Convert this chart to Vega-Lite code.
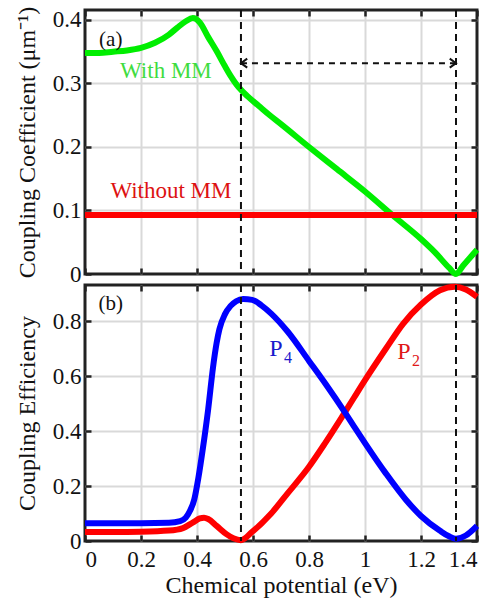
{
  "$schema": "https://vega.github.io/schema/vega-lite/v6.json",
  "padding": {"left": 13, "top": 4, "right": 8, "bottom": 2},
  "spacing": 11,
  "bounds": "flush",
  "config": {
    "font": "Liberation Serif",
    "view": {"stroke": "#222", "strokeWidth": 3},
    "axis": {
      "labelFont": "Liberation Serif",
      "titleFont": "Liberation Serif",
      "labelFontSize": 23,
      "titleFontSize": 24,
      "titleFontWeight": "normal",
      "labelColor": "#111",
      "titleColor": "#111",
      "tickColor": "#222",
      "tickSize": -6,
      "tickWidth": 2.5,
      "domain": false,
      "gridColor": "#d9d9d9",
      "gridWidth": 2,
      "labelPadding": 10,
      "minExtent": 0
    }
  },
  "datasets": {
    "green": [
      {"x": 0, "y": 0.348}, {"x": 0.05, "y": 0.348}, {"x": 0.1, "y": 0.35}, {"x": 0.15, "y": 0.352},
      {"x": 0.2, "y": 0.356}, {"x": 0.25, "y": 0.364}, {"x": 0.3, "y": 0.377}, {"x": 0.33, "y": 0.388},
      {"x": 0.36, "y": 0.398}, {"x": 0.385, "y": 0.403}, {"x": 0.41, "y": 0.396}, {"x": 0.44, "y": 0.373},
      {"x": 0.47, "y": 0.351}, {"x": 0.5, "y": 0.327}, {"x": 0.52, "y": 0.312}, {"x": 0.54, "y": 0.299},
      {"x": 0.557, "y": 0.29}, {"x": 0.58, "y": 0.28}, {"x": 0.62, "y": 0.265}, {"x": 0.66, "y": 0.25},
      {"x": 0.7, "y": 0.236}, {"x": 0.8, "y": 0.2}, {"x": 0.9, "y": 0.165}, {"x": 1.0, "y": 0.13},
      {"x": 1.1, "y": 0.092}, {"x": 1.2, "y": 0.055}, {"x": 1.25, "y": 0.034}, {"x": 1.3, "y": 0.01},
      {"x": 1.325, "y": 0.0}, {"x": 1.35, "y": 0.013}, {"x": 1.4, "y": 0.038}
    ],
    "redTop": [{"x": 0, "y": 0.093}, {"x": 1.4, "y": 0.093}],
    "blue": [
      {"x": 0, "y": 0.065}, {"x": 0.1, "y": 0.065}, {"x": 0.2, "y": 0.065}, {"x": 0.3, "y": 0.066},
      {"x": 0.34, "y": 0.072}, {"x": 0.36, "y": 0.085}, {"x": 0.375, "y": 0.11}, {"x": 0.39, "y": 0.15},
      {"x": 0.405, "y": 0.23}, {"x": 0.42, "y": 0.33}, {"x": 0.44, "y": 0.48}, {"x": 0.457, "y": 0.63},
      {"x": 0.47, "y": 0.72}, {"x": 0.48, "y": 0.77}, {"x": 0.5, "y": 0.825}, {"x": 0.52, "y": 0.855},
      {"x": 0.54, "y": 0.872}, {"x": 0.565, "y": 0.88}, {"x": 0.597, "y": 0.877}, {"x": 0.63, "y": 0.857},
      {"x": 0.665, "y": 0.827}, {"x": 0.725, "y": 0.76}, {"x": 0.8, "y": 0.655}, {"x": 0.86, "y": 0.57},
      {"x": 0.93, "y": 0.465}, {"x": 0.96, "y": 0.418}, {"x": 1.0, "y": 0.356}, {"x": 1.075, "y": 0.245},
      {"x": 1.146, "y": 0.15}, {"x": 1.2, "y": 0.091}, {"x": 1.268, "y": 0.037}, {"x": 1.3, "y": 0.017},
      {"x": 1.325, "y": 0.008}, {"x": 1.36, "y": 0.02}, {"x": 1.4, "y": 0.055}
    ],
    "red": [
      {"x": 0, "y": 0.033}, {"x": 0.1, "y": 0.033}, {"x": 0.2, "y": 0.034}, {"x": 0.3, "y": 0.038},
      {"x": 0.35, "y": 0.047}, {"x": 0.386, "y": 0.068}, {"x": 0.41, "y": 0.082}, {"x": 0.425, "y": 0.085},
      {"x": 0.44, "y": 0.08}, {"x": 0.47, "y": 0.055}, {"x": 0.505, "y": 0.025}, {"x": 0.53, "y": 0.01},
      {"x": 0.557, "y": 0.003}, {"x": 0.597, "y": 0.033}, {"x": 0.665, "y": 0.1}, {"x": 0.725, "y": 0.175},
      {"x": 0.8, "y": 0.27}, {"x": 0.857, "y": 0.355}, {"x": 0.914, "y": 0.445}, {"x": 0.96, "y": 0.52},
      {"x": 1.0, "y": 0.585}, {"x": 1.075, "y": 0.7}, {"x": 1.136, "y": 0.79}, {"x": 1.2, "y": 0.86},
      {"x": 1.268, "y": 0.912}, {"x": 1.32, "y": 0.925}, {"x": 1.36, "y": 0.915}, {"x": 1.4, "y": 0.888}
    ],
    "vlines": [{"x": 0.557}, {"x": 1.325}]
  },
  "vconcat": [
    {
      "width": 392,
      "height": 264,
      "resolve": {"axis": {"x": "independent", "y": "independent"}},
      "layer": [
        {
          "data": {"name": "green"},
          "mark": {"type": "line", "color": "#00ee00", "strokeWidth": 6, "interpolate": "monotone"},
          "encoding": {
            "x": {"field": "x", "type": "quantitative",
              "scale": {"domain": [0, 1.4], "nice": false, "zero": false},
              "axis": {"orient": "bottom", "values": [0, 0.2, 0.4, 0.6, 0.8, 1, 1.2, 1.4], "labels": false, "title": null, "grid": true,
                "gridOpacity": {"condition": {"test": "datum.value <= 0.001 || datum.value >= 1.399", "value": 0}, "value": 1}}},
            "y": {"field": "y", "type": "quantitative",
              "scale": {"domain": [0, 0.4157], "nice": false},
              "axis": {"orient": "left", "values": [0, 0.1, 0.2, 0.3, 0.4], "format": "~g", "title": "Coupling Coefficient (μm⁻¹)", "titlePadding": 13, "grid": true,
                "gridOpacity": {"condition": {"test": "datum.value <= 0.001", "value": 0}, "value": 1}}}
          }
        },
        {
          "data": {"name": "redTop"},
          "mark": {"type": "line", "color": "#ff0000", "strokeWidth": 6},
          "encoding": {
            "x": {"field": "x", "type": "quantitative", "axis": null},
            "y": {"field": "y", "type": "quantitative", "axis": null}
          }
        },
        {
          "data": {"name": "vlines"},
          "mark": {"type": "rule", "strokeDash": [7, 5], "strokeWidth": 2, "color": "#111"},
          "encoding": {"x": {"field": "x", "type": "quantitative", "axis": null}}
        },
        {
          "data": {"values": [{"x": 0.557, "x2": 1.325, "y": 0.332}]},
          "mark": {"type": "rule", "strokeDash": [6, 5], "strokeWidth": 2, "color": "#111"},
          "encoding": {
            "x": {"field": "x", "type": "quantitative", "axis": null},
            "x2": {"field": "x2"},
            "y": {"field": "y", "type": "quantitative", "axis": null}
          }
        },
        {
          "data": {"values": [{"x": 0.557, "y": 0.332, "dir": "left"}, {"x": 1.325, "y": 0.332, "dir": "right"}]},
          "mark": {"type": "point", "filled": false, "strokeWidth": 2, "color": "#111", "size": 80, "opacity": 1},
          "encoding": {
            "x": {"field": "x", "type": "quantitative", "axis": null},
            "y": {"field": "y", "type": "quantitative", "axis": null},
            "shape": {"field": "dir", "type": "nominal", "legend": null,
              "scale": {"domain": ["left", "right"], "range": ["M1.4,-1L0,0L1.4,1", "M-1.4,-1L0,0L-1.4,1"]}}
          }
        },
        {
          "data": {"values": [{"x": 0.289, "y": 0.32, "t": "With MM"}]},
          "mark": {"type": "text", "color": "#3fdc3f", "fontSize": 23, "font": "Liberation Serif", "baseline": "middle"},
          "encoding": {
            "x": {"field": "x", "type": "quantitative", "axis": null},
            "y": {"field": "y", "type": "quantitative", "axis": null},
            "text": {"field": "t"}
          }
        },
        {
          "data": {"values": [{"x": 0.307, "y": 0.131, "t": "Without MM"}]},
          "mark": {"type": "text", "color": "#dd1111", "fontSize": 23, "font": "Liberation Serif", "baseline": "middle"},
          "encoding": {
            "x": {"field": "x", "type": "quantitative", "axis": null},
            "y": {"field": "y", "type": "quantitative", "axis": null},
            "text": {"field": "t"}
          }
        },
        {
          "data": {"values": [{"x": 0.092, "y": 0.368, "t": "(a)"}]},
          "mark": {"type": "text", "color": "#111", "fontSize": 21, "font": "Liberation Serif", "baseline": "middle"},
          "encoding": {
            "x": {"field": "x", "type": "quantitative", "axis": null},
            "y": {"field": "y", "type": "quantitative", "axis": null},
            "text": {"field": "t"}
          }
        },
        {
          "data": {"values": [{"x": 0, "y": 0}]},
          "mark": {"type": "point", "opacity": 0},
          "encoding": {
            "x": {"field": "x", "type": "quantitative",
              "axis": {"orient": "top", "values": [0, 0.2, 0.4, 0.6, 0.8, 1, 1.2, 1.4], "labels": false, "title": null, "grid": false}},
            "y": {"field": "y", "type": "quantitative",
              "axis": {"orient": "right", "values": [0, 0.1, 0.2, 0.3, 0.4], "labels": false, "title": null, "grid": false}}
          }
        }
      ]
    },
    {
      "width": 392,
      "height": 256,
      "resolve": {"axis": {"x": "independent", "y": "independent"}},
      "layer": [
        {
          "data": {"name": "red"},
          "mark": {"type": "line", "color": "#ff0000", "strokeWidth": 6, "interpolate": "monotone"},
          "encoding": {
            "x": {"field": "x", "type": "quantitative",
              "scale": {"domain": [0, 1.4], "nice": false, "zero": false},
              "axis": {"orient": "bottom", "values": [0, 0.2, 0.4, 0.6, 0.8, 1, 1.2, 1.4], "format": "~g", "title": "Chemical potential (eV)", "titlePadding": 2, "labelPadding": 13, "grid": true,
                "gridOpacity": {"condition": {"test": "datum.value <= 0.001 || datum.value >= 1.399", "value": 0}, "value": 1}}},
            "y": {"field": "y", "type": "quantitative",
              "scale": {"domain": [0, 0.931], "nice": false},
              "axis": {"orient": "left", "values": [0, 0.2, 0.4, 0.6, 0.8], "format": "~g", "title": "Coupling Efficiency", "titlePadding": 13, "grid": true,
                "gridOpacity": {"condition": {"test": "datum.value <= 0.001", "value": 0}, "value": 1}}}
          }
        },
        {
          "data": {"name": "blue"},
          "mark": {"type": "line", "color": "#0000ff", "strokeWidth": 6, "interpolate": "monotone"},
          "encoding": {
            "x": {"field": "x", "type": "quantitative", "axis": null},
            "y": {"field": "y", "type": "quantitative", "axis": null}
          }
        },
        {
          "data": {"name": "vlines"},
          "mark": {"type": "rule", "strokeDash": [7, 5], "strokeWidth": 2, "color": "#111"},
          "encoding": {"x": {"field": "x", "type": "quantitative", "axis": null}}
        },
        {
          "data": {"values": [{"x": 0.682, "y": 0.698, "t": "P"}]},
          "mark": {"type": "text", "color": "#1a1acc", "fontSize": 24, "font": "Liberation Serif", "baseline": "middle"},
          "encoding": {
            "x": {"field": "x", "type": "quantitative", "axis": null},
            "y": {"field": "y", "type": "quantitative", "axis": null},
            "text": {"field": "t"}
          }
        },
        {
          "data": {"values": [{"x": 0.682, "y": 0.698, "t": "4"}]},
          "mark": {"type": "text", "color": "#1a1acc", "fontSize": 16, "font": "Liberation Serif", "baseline": "middle", "dx": 12, "dy": 9},
          "encoding": {
            "x": {"field": "x", "type": "quantitative", "axis": null},
            "y": {"field": "y", "type": "quantitative", "axis": null},
            "text": {"field": "t"}
          }
        },
        {
          "data": {"values": [{"x": 1.139, "y": 0.687, "t": "P"}]},
          "mark": {"type": "text", "color": "#e01818", "fontSize": 24, "font": "Liberation Serif", "baseline": "middle"},
          "encoding": {
            "x": {"field": "x", "type": "quantitative", "axis": null},
            "y": {"field": "y", "type": "quantitative", "axis": null},
            "text": {"field": "t"}
          }
        },
        {
          "data": {"values": [{"x": 1.139, "y": 0.687, "t": "2"}]},
          "mark": {"type": "text", "color": "#e01818", "fontSize": 16, "font": "Liberation Serif", "baseline": "middle", "dx": 12, "dy": 9},
          "encoding": {
            "x": {"field": "x", "type": "quantitative", "axis": null},
            "y": {"field": "y", "type": "quantitative", "axis": null},
            "text": {"field": "t"}
          }
        },
        {
          "data": {"values": [{"x": 0.092, "y": 0.862, "t": "(b)"}]},
          "mark": {"type": "text", "color": "#111", "fontSize": 21, "font": "Liberation Serif", "baseline": "middle"},
          "encoding": {
            "x": {"field": "x", "type": "quantitative", "axis": null},
            "y": {"field": "y", "type": "quantitative", "axis": null},
            "text": {"field": "t"}
          }
        },
        {
          "data": {"values": [{"x": 0, "y": 0}]},
          "mark": {"type": "point", "opacity": 0},
          "encoding": {
            "x": {"field": "x", "type": "quantitative",
              "axis": {"orient": "top", "values": [0, 0.2, 0.4, 0.6, 0.8, 1, 1.2, 1.4], "labels": false, "title": null, "grid": false}},
            "y": {"field": "y", "type": "quantitative",
              "axis": {"orient": "right", "values": [0, 0.2, 0.4, 0.6, 0.8], "labels": false, "title": null, "grid": false}}
          }
        }
      ]
    }
  ]
}
